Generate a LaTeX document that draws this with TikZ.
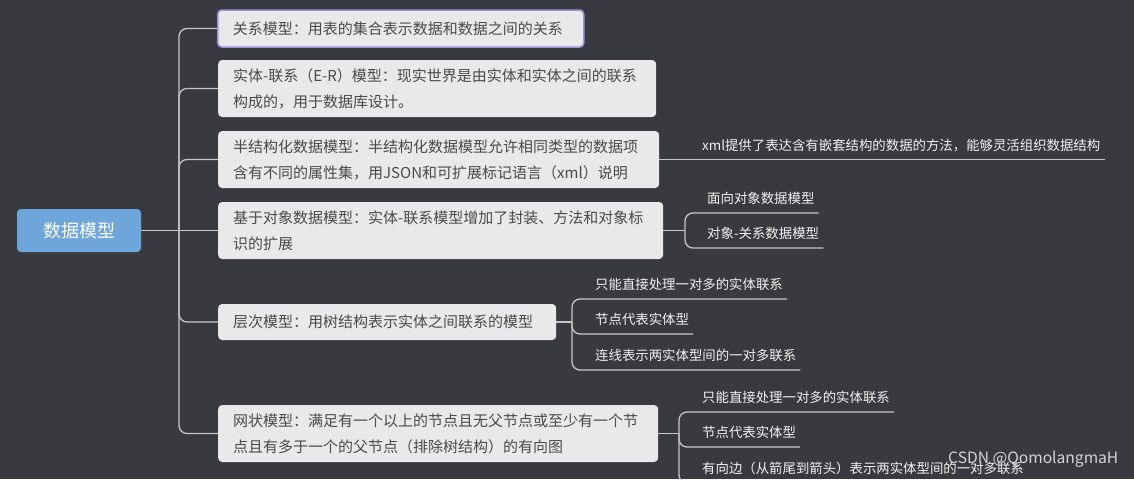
\documentclass[tikz,border=0pt]{standalone}
\usepackage{fontspec}
\newfontfamily\cjk{Noto Sans CJK SC}
\definecolor{bg}{HTML}{393A3F}
\definecolor{boxfill}{HTML}{E9E9EB}
\definecolor{boxtext}{HTML}{4A4A4A}
\definecolor{leaftext}{HTML}{F2F2F2}
\definecolor{linec}{HTML}{C6C6C6}
\definecolor{rootc}{HTML}{6EA6DC}
\definecolor{selc}{HTML}{9A93E0}
\definecolor{wmc}{HTML}{D4D4D6}
\begin{document}
\begin{tikzpicture}[x=1pt,y=-1pt,
  main/.style={fill=boxfill, rounded corners=4pt, anchor=west, inner xsep=15pt, inner ysep=0pt,
    align=left, text=boxtext, font=\fontsize{15}{26}\selectfont\cjk},
  leaf/.style={anchor=south west, inner sep=0pt, text height=10pt, text depth=9pt,
    text=leaftext, font=\fontsize{13.4}{16}\selectfont\cjk},
  conn/.style={draw=linec, line width=1.3pt},
  elbow/.style={conn, rounded corners=8pt}]
\useasboundingbox (0,0) rectangle (1134,479);
\clip (0,0) rectangle (1134,479);
\fill[bg] (0,0) rectangle (1134,479);

% root
\node[fill=rootc, rounded corners=4pt, minimum width=124pt, minimum height=43pt, inner sep=0pt,
  text=white, font=\fontsize{18}{18}\selectfont\cjk] (root) at (79,230.5) {数据模型};

% main boxes
\node[main, draw=selc, line width=1.5pt, text width=336pt, minimum height=37pt] (n1) at (217,28.5)
  {\mbox{关系模型：用表的集合表示数据和数据之间的关系}};
\node[main, text width=408pt, minimum height=57pt] (n2) at (218,88.5)
  {\mbox{实体-联系（E-R）模型：现实世界是由实体和实体之间的联系}\\\mbox{构成的，用于数据库设计。}};
\node[main, text width=411pt, minimum height=57pt] (n3) at (218,159.5)
  {\mbox{半结构化数据模型：半结构化数据模型允许相同类型的数据项}\\\mbox{含有不同的属性集，用JSON和可扩展标记语言（xml）说明}};
\node[main, text width=415pt, minimum height=57pt] (n4) at (218,230.5)
  {\mbox{基于对象数据模型：实体-联系模型增加了封装、方法和对象标}\\\mbox{识的扩展}};
\node[main, text width=308pt, minimum height=36pt] (n5) at (218,322)
  {\mbox{层次模型：用树结构表示实体之间联系的模型}};
\node[main, text width=410pt, minimum height=57pt] (n6) at (218,433.5)
  {\mbox{网状模型：满足有一个以上的节点且无父节点或至少有一个节}\\\mbox{点且有多于一个的父节点（排除树结构）的有向图}};

% trunk
\coordinate (tk) at (179,230.5);
\draw[conn] (root.east) -- (n4.west);
\draw[elbow] (tk) |- (n1.west);
\draw[elbow] (tk) |- (n2.west);
\draw[elbow] (tk) |- (n3.west);
\draw[elbow] (tk) |- (n5.west);
\draw[elbow] (tk) |- (n6.west);

% leaves of n3
\node[leaf] (c31) at (702,159.5) {xml提供了表达含有嵌套结构的数据的方法，能够灵活组织数据结构};
\draw[conn] (n3.east) -- (c31.south west) -- ([xshift=4pt]c31.south east);

% leaves of n4
\coordinate (tk4) at (685,230.5);
\node[leaf] (c41) at (707,213) {面向对象数据模型};
\node[leaf] (c42) at (707,248) {对象-关系数据模型};
\draw[conn] (n4.east) -- (tk4);
\draw[elbow] (tk4) |- (c41.south west) -- ([xshift=4pt]c41.south east);
\draw[elbow] (tk4) |- (c42.south west) -- ([xshift=4pt]c42.south east);

% leaves of n5
\coordinate (tk5) at (572,322);
\node[leaf] (c51) at (595,299) {只能直接处理一对多的实体联系};
\node[leaf] (c52) at (595,334) {节点代表实体型};
\node[leaf] (c53) at (595,370) {连线表示两实体型间的一对多联系};
\draw[conn] (n5.east) -- (tk5);
\draw[elbow] (tk5) |- (c51.south west) -- ([xshift=4pt]c51.south east);
\draw[elbow] (tk5) |- (c52.south west) -- ([xshift=4pt]c52.south east);
\draw[elbow] (tk5) |- (c53.south west) -- ([xshift=4pt]c53.south east);

% leaves of n6
\coordinate (tk6) at (679,433.5);
\node[leaf] (c61) at (702,412) {只能直接处理一对多的实体联系};
\node[leaf] (c62) at (702,447) {节点代表实体型};
\node[leaf] (c63) at (702,483) {有向边（从箭尾到箭头）表示两实体型间的一对多联系};
\draw[conn] (n6.east) -- (tk6);
\draw[elbow] (tk6) |- (c61.south west) -- ([xshift=4pt]c61.south east);
\draw[elbow] (tk6) |- (c62.south west) -- ([xshift=4pt]c62.south east);
\draw[elbow] (tk6) |- (c63.south west) -- ([xshift=4pt]c63.south east);

% watermark
\node[anchor=west, inner sep=0pt, text=wmc, font=\fontsize{15.6}{16}\selectfont\cjk] (wm) at (948,459) {CSDN @QomolangmaH};
\end{tikzpicture}
\end{document}
